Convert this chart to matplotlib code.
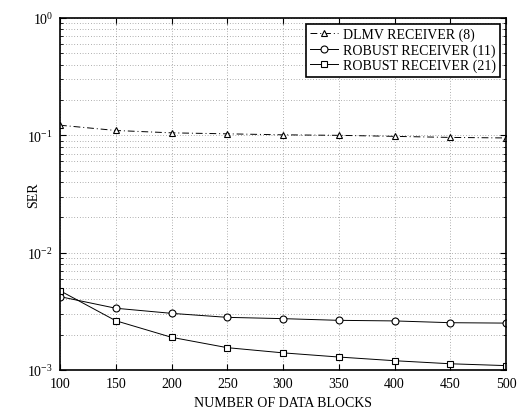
import matplotlib
matplotlib.use("Agg")
import matplotlib.pyplot as plt

plt.rcParams['font.family'] = ['Liberation Serif', 'DejaVu Serif']
plt.rcParams['mathtext.fontset'] = 'stix'

# data
blocks = [100, 150, 200, 250, 300, 350, 400, 450, 500]
ser_dlmv = [0.122, 0.110, 0.105, 0.103, 0.101, 0.100, 0.098, 0.096, 0.095]
ser_robust11 = [0.00422, 0.00336, 0.00304, 0.00281, 0.00274, 0.00265, 0.00262, 0.00253, 0.00251]
ser_robust21 = [0.00474, 0.00263, 0.00190, 0.00155, 0.00140, 0.00129, 0.00120, 0.00113, 0.00109]
labels = ['DLMV RECEIVER (8)', 'ROBUST RECEIVER (11)', 'ROBUST RECEIVER (21)']

fig = plt.figure(figsize=(5.17, 4.10), dpi=100)
ax = fig.add_axes([60/517, 39/410, 446/517, 352/410])

ax.semilogy(blocks, ser_dlmv, color='k', lw=0.7, ls=(0, (7, 3, 1, 3)), marker='^',
            ms=5, mfc='white', mec='k', mew=0.8, label=labels[0])
ax.semilogy(blocks, ser_robust11, color='k', lw=0.7, marker='o',
            ms=5, mfc='white', mec='k', mew=0.8, label=labels[1])
ax.semilogy(blocks, ser_robust21, color='k', lw=0.7, marker='s',
            ms=4.5, mfc='white', mec='k', mew=0.8, label=labels[2])

ax.set_xlim(100, 500)
ax.set_ylim(1e-3, 1)
ax.set_xticks(blocks)
ax.grid(True, which='major', ls=(0, (1, 3)), color='0.4', lw=0.5)
ax.grid(True, which='minor', axis='y', ls=(0, (1, 3)), color='0.4', lw=0.5)
ax.tick_params(which='both', direction='in', top=True, right=True, labelsize=10)
ax.tick_params(which='major', length=4)
ax.tick_params(which='minor', length=2)
ax.tick_params(axis='x', pad=5)
ax.tick_params(axis='y', pad=5)
for s in ax.spines.values():
    s.set_linewidth(1.2)

ax.set_xlabel('NUMBER OF DATA BLOCKS', fontsize=10)
ax.set_ylabel('SER', fontsize=10)
ax.xaxis.set_label_coords(0.5, -0.075)
ax.yaxis.set_label_coords(-0.045, 0.5)

leg = ax.legend(loc='upper right', fontsize=10, fancybox=False, edgecolor='k',
                framealpha=1, borderaxespad=0.4, handlelength=2.0,
                handletextpad=0.4, labelspacing=0.15, borderpad=0.3)
leg.get_frame().set_linewidth(1.2)

fig.savefig('out.png', dpi=100)
